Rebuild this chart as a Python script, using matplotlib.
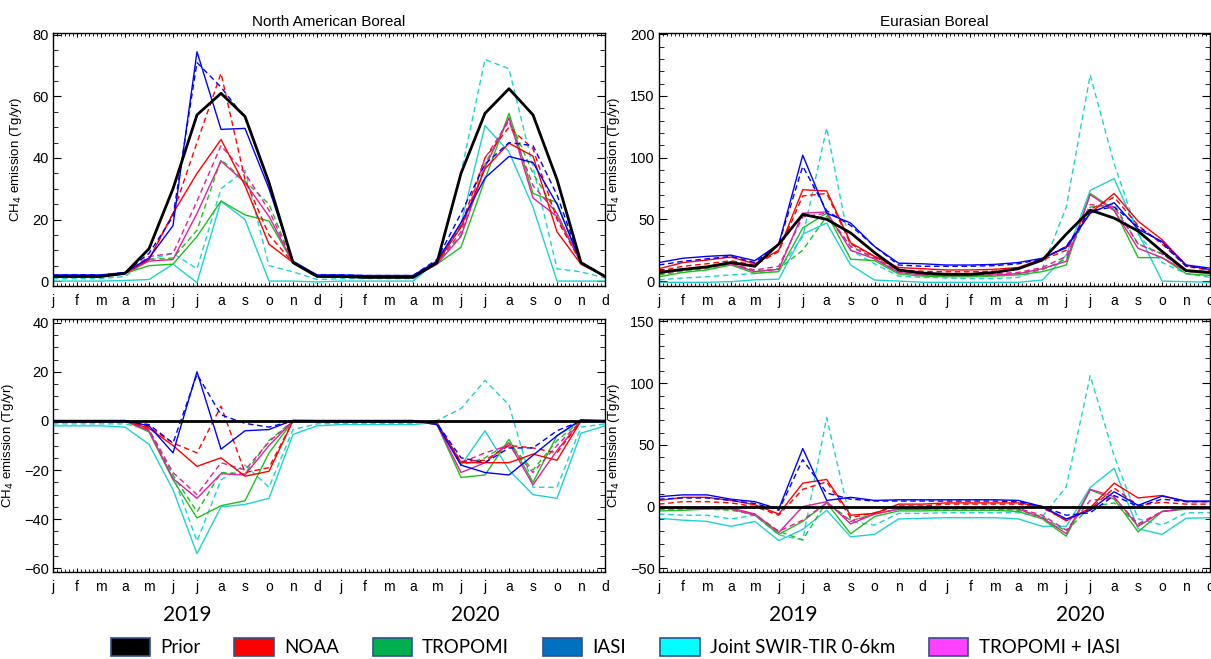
import numpy as np
import matplotlib.pyplot as plt
from matplotlib.patches import Patch
from matplotlib.ticker import MultipleLocator, FixedLocator

plt.rcParams['font.family'] = ['Liberation Sans', 'DejaVu Sans']

month_labels = list("jfmamjjasond") * 2
x = np.arange(24)

# ---- North American Boreal, emissions (Tg/yr) ----
na_prior = [1.5, 1.5, 1.5, 2.5, 10.5, 30, 54, 61, 53.5, 32, 6, 1.5,
            1.5, 1.2, 1.2, 1.2, 6, 35, 54.5, 62.5, 54, 33, 6, 1.5]
na_noaa = [1.5, 1.5, 1.5, 2.5, 7, 22, 35, 46, 31, 12, 6, 1.5,
           1.5, 1.2, 1.2, 1.2, 6, 17.5, 36.5, 44.8, 40.6, 16, 5.5, 1.5]
na_noaa_d = [1.5, 1.5, 1.5, 2.5, 7, 22, 45, 67.5, 33, 15, 6, 1.5,
             1.5, 1.2, 1.2, 1.2, 6, 18, 40, 50, 43, 20, 6, 1.5]
na_trop = [1.5, 1.5, 1.5, 2.5, 5, 5.5, 14.5, 26, 21.5, 19.5, 6, 1.5,
           1.5, 1.2, 1.2, 1.2, 5.5, 11, 33, 54.5, 28.5, 25.5, 5.5, 1.5]
na_trop_d = [1.5, 1.5, 1.5, 2.5, 7, 7.5, 16.5, 39.5, 32.5, 25, 6, 1.5,
             1.5, 1.2, 1.2, 1.2, 6, 15, 38, 53, 35, 22, 6, 1.5]
na_iasi = [2, 2, 2, 2.8, 7.5, 18, 74.5, 49.3, 49.6, 30, 6.5, 2,
           2, 1.8, 1.8, 1.8, 6.5, 19, 33.5, 40.5, 38.5, 25, 6, 1.5]
na_iasi_d = [2, 2, 2, 2.8, 9, 21, 71, 63, 53, 32, 6, 2,
             2, 1.8, 1.8, 1.8, 7, 22, 38, 45, 44, 28, 6, 1.5]
na_joint = [0, 0, 0, 0.2, 0.5, 5.5, -0.5, 26, 20, 0, 0, -0.3,
            0, 0, 0, 0, 6.5, 18.5, 50.5, 42, 24, 0, 0, 0]
na_joint_d = [0.8, 0.8, 0.8, 1.5, 7, 9, 4, 30, 36, 5, 3, 0.5,
              0.8, 0.8, 0.8, 0.8, 6, 35, 72, 69, 37, 4, 3, 1]
na_ti = [1.5, 1.5, 1.5, 2.5, 6.5, 7, 22, 39, 32, 21, 6, 1.5,
         1.5, 1.2, 1.2, 1.2, 5.5, 14.5, 37, 53, 27, 21, 6, 1.5]
na_ti_d = [1.5, 1.5, 1.5, 2.5, 8, 9, 26, 44, 35, 23, 6, 1.5,
           1.5, 1.2, 1.2, 1.2, 6, 16, 40, 52, 31, 22, 6, 1.5]

# ---- North American Boreal, posterior minus prior ----
na_prior_diff = [0] * 24
na_noaa_diff = [0, 0, 0, 0, -3, -10, -18.5, -15, -22.5, -20.5, 0, 0,
                0, 0, 0, 0, -1, -17, -17, -17, -13.5, -16, 0, 0]
na_noaa_d_diff = [0, 0, 0, 0, -2.5, -9, -13, 6, -21, -19, 0, 0,
                  0, 0, 0, 0, -1, -16.5, -16, -10, -11, -13, 0, 0]
na_trop_diff = [0, 0, 0, 0, -4.5, -24, -39.5, -34.5, -32.5, -13, 0, 0,
                0, 0, 0, 0, -1.5, -23, -22, -7.5, -25, -6, 0, 0]
na_trop_d_diff = [0, 0, 0, 0, -4, -22, -37, -21, -21.5, -8, 0, 0,
                  0, 0, 0, 0, -1, -18, -15, -9, -20, -8, 0, 0]
na_iasi_diff = [0.2, 0.2, 0.2, 0.2, -2, -13, 20, -11.5, -4, -3.5, 0.3, 0.2,
                0.2, 0.2, 0.2, 0.2, -1.5, -18, -21, -22, -14, -6, 0.5, 0.2]
na_iasi_d_diff = [0, 0, 0, 0, -1.5, -9, 19, 2.5, -1, -2.5, 0, 0,
                  0, 0, 0, 0, -1, -15, -17, -11, -11, -4, 0, 0]
na_joint_diff = [-2, -2, -2, -2.5, -9.5, -28, -54, -35, -34, -31.5, -5.5, -2,
                 -1.5, -1.5, -1.5, -1.5, -0.5, -18, -4, -20, -30, -31.5, -5, -2]
na_joint_d_diff = [-1.2, -1.2, -1.2, -1.2, -3.5, -22, -49, -24, -18, -27, -3.5, -1.2,
                   -1, -1, -1, -1, 0.2, 5, 16.5, 6.5, -27, -27, -2.5, -1.2]
na_ti_diff = [0, 0, 0, 0, -4, -23.5, -31.5, -21.5, -22, -10, 0, 0,
              0, 0, 0, 0, -1.5, -21, -17, -9, -26, -12, 0, 0]
na_ti_d_diff = [0, 0, 0, 0, -3.5, -21, -30, -17, -20, -8.5, 0, 0,
                0, 0, 0, 0, -1.2, -17, -13, -10, -21, -10, 0, 0]

# ---- Eurasian Boreal, emissions (Tg/yr) ----
eu_prior = [7, 9.5, 11.5, 15, 12, 30, 54, 50, 39, 23, 9, 6.5,
            5.5, 5.5, 7, 10, 17, 38, 57.5, 51, 40.5, 24, 8.5, 7]
eu_noaa = [10, 15, 17, 19.5, 14, 25, 74, 73, 31, 20, 11, 10,
           9, 9, 9.5, 11, 18, 28, 55, 71, 48.5, 33.5, 13, 9]
eu_noaa_d = [8, 12, 14, 16.5, 13, 24, 69, 71, 30, 20, 9, 8,
             7.5, 7.5, 8, 10, 17, 25, 58, 68, 45, 30, 12, 8.5]
eu_trop = [3.5, 7, 9, 13, 6.3, 7.6, 43, 55, 17.7, 16.6, 5.7, 4,
           3.5, 3.5, 4, 5, 7.6, 13, 71, 58, 19, 19, 6, 4.5]
eu_trop_d = [5, 8, 10, 14, 8, 10, 25, 52.5, 28, 18, 7, 5,
             4.5, 4.5, 5, 6, 9, 18, 60, 62, 30, 22, 8, 6]
eu_iasi = [15, 18.5, 20, 21, 16.5, 30, 102, 55, 47, 28, 14.5, 14,
           13, 13, 13.5, 15, 18.5, 27, 55, 63.5, 42, 32, 13, 10.5]
eu_iasi_d = [13, 16, 18, 20, 15, 30, 93, 57, 45, 28, 13, 12,
             12, 12, 12.5, 14, 18, 28, 57, 60, 44, 31, 12, 10]
eu_joint = [-1, -1, -1, -0.5, 1, 1.5, 38, 47, 13, 0.8, 0, -1,
            -1, -1, -1, -1, 0.8, 21, 73.5, 83, 39, 0, -0.5, -1]
eu_joint_d = [1, 2.5, 3.5, 5, 6, 9, 36, 124, 25, 14, 4, 3,
              2.5, 2, 2, 3, 10, 60, 167, 95, 38, 15, 6, 3]
eu_ti = [6, 9, 11, 14, 7.6, 9.5, 55, 56, 25, 18, 7, 5,
         4.5, 4.5, 5, 6, 10, 16, 70, 57, 26.5, 19, 8, 6]
eu_ti_d = [6, 9, 11, 14, 9, 12, 52, 55, 28, 19, 8, 6,
           5.5, 5.5, 6, 7, 11, 20, 62, 60, 30, 22, 9, 7]

# ---- Eurasian Boreal, posterior minus prior ----
eu_prior_diff = [0] * 24
eu_noaa_diff = [5, 7.5, 7.5, 5, 1.5, -6, 19, 22, -7, -5.5, 2, 2,
                3, 3, 3, 3, 0, -11.5, -1, 19, 7, 9, 4, 4]
eu_noaa_d_diff = [2, 4, 4, 3, 0, -7, 14, 20, -9, -5, 0.5, 0.5,
                  2, 2, 2, 2, -1, -11, -2, 15, 1, 3.5, 2, 2]
eu_trop_diff = [-3.5, -3, -2, -2, -7, -22.5, -12, 3, -22, -8, -3.5, -3.5,
                -3, -3, -3, -4, -10, -24, 13.5, 6, -20.5, -4, -2, -2]
eu_trop_d_diff = [-2, -2, -2, -3, -6, -20, -27, 4, -11.5, -6, -2, -2,
                  -2, -2, -2, -3, -8, -20, 0, 3, -15, -4, -2, -2]
eu_iasi_diff = [8, 9.5, 9.5, 6, 4, -2, 47, 5, 7.5, 5, 5.5, 5.5,
                5.5, 5.5, 5.5, 5, 0, -10, -3, 12, 1, 8.5, 4.5, 4.5]
eu_iasi_d_diff = [6, 7, 7, 5, 2.5, -3, 38, 11, 6, 4.5, 4.5, 4.5,
                  4.5, 4.5, 4.5, 4, 0, -7, -5, 9, 0, 6, 4, 4]
eu_joint_diff = [-9.5, -11, -12, -16, -12, -27.5, -18.5, -3, -24.5, -22.5, -10, -9.5,
                 -9, -9, -9, -10, -16, -16, 15.5, 31, -18, -22.5, -9.5, -9]
eu_joint_d_diff = [-6, -7, -7, -10, -7, -23, -27, 72, -12, -15, -5.5, -5.5,
                   -5, -5, -5, -5, -8, 16, 106, 41, -10, -15, -5, -5]
eu_ti_diff = [-1, -1, -1, -1, -6, -21, 0, 4, -14, -6, -2, -2,
              -1.5, -1.5, -1.5, -2, -9, -22, 14, 8, -16, -4, -1.5, -1.5]
eu_ti_d_diff = [-2, -1.5, -1, -2, -7, -20, -11, 3, -12, -6, -2, -2,
                -1, -1, -1, -1.5, -7, -19, 5, 7, -14, -4, -1, -1]

# line colours (plot) and legend box colours
c_noaa, c_trop, c_iasi, c_joint, c_ti = '#ff0000', '#1ec01e', '#0000ff', '#1ed2d2', '#e0209f'
legend_names = ['Prior', 'NOAA', 'TROPOMI', 'IASI', 'Joint SWIR-TIR 0-6km', 'TROPOMI + IASI']
legend_colors = ['#000000', '#ff0000', '#00b050', '#0070c0', '#00ffff', '#ff40ff']

DASH = (0, (4, 2.6))


def draw_panel(ax, prior, series, ylim, major, minor, ylabel=True):
    for vals, col, ls in series:
        ax.plot(x, vals, color=col, ls=ls, lw=1.0)
    ax.plot(x, prior, color='black', lw=2.0)
    ax.set_xlim(0, 23)
    ax.set_ylim(*ylim)
    ax.xaxis.set_major_locator(FixedLocator(x))
    ax.set_xticklabels(month_labels)
    ax.xaxis.set_minor_locator(MultipleLocator(1 / 6))
    ax.yaxis.set_major_locator(MultipleLocator(major))
    ax.yaxis.set_minor_locator(MultipleLocator(minor))
    ax.tick_params(axis='both', which='both', direction='in', top=True, right=True)
    ax.tick_params(axis='x', which='major', length=3, labelsize=10, pad=6)
    ax.tick_params(axis='x', which='minor', length=2.5)
    ax.tick_params(axis='y', which='major', length=6, labelsize=10.5, pad=3)
    ax.tick_params(axis='y', which='minor', length=3.5)
    for s in ax.spines.values():
        s.set_linewidth(1.0)
    if ylabel:
        ax.set_ylabel('CH$_4$ emission (Tg/yr)', fontsize=9.5, labelpad=6)


def series_set(noaa, noaa_d, trop, trop_d, iasi, iasi_d, joint, joint_d, ti, ti_d):
    return [(joint, c_joint, '-'), (joint_d, c_joint, DASH),
            (trop, c_trop, '-'), (trop_d, c_trop, DASH),
            (ti, c_ti, '-'), (ti_d, c_ti, DASH),
            (noaa, c_noaa, '-'), (noaa_d, c_noaa, DASH),
            (iasi, c_iasi, '-'), (iasi_d, c_iasi, DASH)]


W, H = 1211, 659
fig = plt.figure(figsize=(W / 100, H / 100), dpi=100)
ax1 = fig.add_axes([53 / W, 1 - 286 / H, 552 / W, 253 / H])
ax2 = fig.add_axes([659 / W, 1 - 286 / H, 551 / W, 253 / H])
ax3 = fig.add_axes([53 / W, 1 - 572 / H, 552 / W, 253 / H])
ax4 = fig.add_axes([659 / W, 1 - 572 / H, 551 / W, 253 / H])

draw_panel(ax1, na_prior,
           series_set(na_noaa, na_noaa_d, na_trop, na_trop_d, na_iasi, na_iasi_d,
                      na_joint, na_joint_d, na_ti, na_ti_d),
           (-1.6, 80.6), 20, 5)
draw_panel(ax2, eu_prior,
           series_set(eu_noaa, eu_noaa_d, eu_trop, eu_trop_d, eu_iasi, eu_iasi_d,
                      eu_joint, eu_joint_d, eu_ti, eu_ti_d),
           (-4, 201), 50, 10)
draw_panel(ax3, na_prior_diff,
           series_set(na_noaa_diff, na_noaa_d_diff, na_trop_diff, na_trop_d_diff,
                      na_iasi_diff, na_iasi_d_diff, na_joint_diff, na_joint_d_diff,
                      na_ti_diff, na_ti_d_diff),
           (-61.5, 41.5), 20, 5)
draw_panel(ax4, eu_prior_diff,
           series_set(eu_noaa_diff, eu_noaa_d_diff, eu_trop_diff, eu_trop_d_diff,
                      eu_iasi_diff, eu_iasi_d_diff, eu_joint_diff, eu_joint_d_diff,
                      eu_ti_diff, eu_ti_d_diff),
           (-53, 152), 50, 10)

ax1.set_title('North American Boreal', fontsize=11, pad=5)
ax2.set_title('Eurasian Boreal', fontsize=11, pad=5)

for ax in (ax3, ax4):
    for xpos, yr in ((5.6, '2019'), (17.6, '2020')):
        ax.text(xpos, -0.17, yr, transform=ax.get_xaxis_transform(),
                ha='center', va='center', fontsize=15, family=['Lato', 'DejaVu Sans'])

handles = [Patch(facecolor=c, edgecolor='#2f528f', lw=1.2) for c in legend_colors]
fig.legend(handles, legend_names, loc='center', bbox_to_anchor=(0.508, 0.018),
           ncol=6, frameon=False, handlelength=2.1, handleheight=1.1,
           columnspacing=1.8, handletextpad=0.55,
           prop={'family': ['Lato', 'DejaVu Sans'], 'size': 13.5})

fig.savefig('out.png', dpi=100)
